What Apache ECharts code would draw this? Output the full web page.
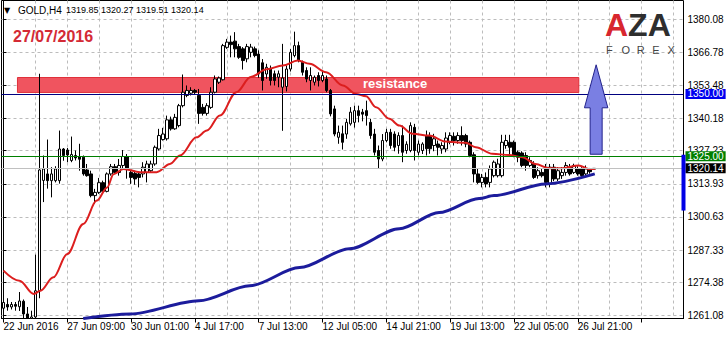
<!DOCTYPE html>
<html><head><meta charset="utf-8">
<script src="https://cdn.jsdelivr.net/npm/echarts@6/dist/echarts.min.js"></script>
<style>html,body{margin:0;padding:0;background:#fff}#c{width:727px;height:339px}</style>
</head><body><div id="c"></div>
<script>
// ---------- data ----------
const tickLabels = ['22 Jun 2016','27 Jun 09:00','30 Jun 01:00','4 Jul 17:00','7 Jul 13:00','12 Jul 05:00','14 Jul 21:00','19 Jul 13:00','22 Jul 05:00','26 Jul 21:00'];
const barsPerLabel = 16;
const barsPerGrid = 8;
const slotCount = 171;
const categories = Array.from({length: slotCount}, (_, i) => i);
const priceTicks = [1261.08,1274.38,1287.33,1300.63,1313.93,1327.23,1340.18,1353.48,1366.78,1380.08];
const priceMin = 1259.876, priceMax = 1387.505;
// [open, close, low, high]
const candles = [
[1264.0,1266.3,1262.8,1269.0],[1265.5,1264.5,1263.0,1268.0],[1264.5,1265.5,1263.5,1266.5],[1265.5,1264.8,1263.0,1266.5],
[1264.6,1266.9,1262.9,1270.5],[1266.8,1261.7,1259.9,1267.5],[1261.7,1259.9,1259.9,1264.5],[1259.9,1260.5,1259.9,1263.0],
[1260.5,1271.0,1259.9,1285.5],[1271.0,1319.5,1268.0,1358.1],[1315.3,1319.9,1306.6,1325.3],[1317.9,1315.2,1312.0,1331.7],
[1315.2,1317.9,1308.5,1320.6],[1315.2,1319.9,1314.5,1321.0],[1315.2,1327.9,1314.0,1335.3],[1327.9,1325.3,1323.2,1328.3],
[1327.5,1325.5,1322.6,1328.3],[1323.3,1325.7,1322.6,1332.9],[1325.3,1324.3,1323.3,1327.3],[1324.8,1323.8,1319.2,1330.0],
[1324.6,1317.9,1317.2,1325.3],[1319.5,1317.2,1316.8,1321.9],[1317.9,1309.2,1308.5,1319.2],[1309.2,1310.5,1305.9,1311.9],
[1310.5,1314.4,1309.9,1316.3],[1314.4,1310.9,1310.5,1315.2],[1310.9,1317.9,1310.5,1318.5],[1317.9,1320.8,1317.2,1321.9],
[1320.8,1318.5,1317.9,1321.9],[1318.5,1321.3,1317.2,1323.9],[1321.3,1324.9,1320.0,1327.5],[1324.9,1320.0,1316.0,1325.9],
[1318.5,1316.5,1313.9,1319.5],[1318.1,1315.9,1313.6,1319.2],[1317.9,1316.5,1312.5,1318.5],[1317.9,1320.6,1316.5,1322.6],
[1318.5,1321.9,1314.5,1323.2],[1319.2,1321.9,1318.5,1323.2],[1321.9,1328.6,1321.2,1329.3],[1327.9,1333.3,1327.3,1336.0],
[1331.7,1333.9,1331.3,1336.4],[1332.0,1339.6,1331.3,1341.3],[1339.6,1336.0,1335.3,1340.9],[1336.0,1340.6,1335.6,1342.0],
[1337.3,1345.3,1336.6,1346.0],[1345.3,1350.7,1344.6,1357.8],[1349.4,1351.4,1348.7,1353.4],[1350.3,1351.4,1349.4,1352.7],
[1351.4,1350.7,1350.0,1352.0],[1349.4,1342.2,1338.0,1352.0],[1344.6,1342.2,1341.3,1346.0],[1342.2,1345.3,1341.3,1346.3],
[1344.6,1350.7,1344.0,1352.7],[1350.7,1356.0,1350.2,1357.4],[1354.7,1356.4,1354.0,1357.0],[1355.7,1369.4,1355.4,1370.1],
[1368.7,1370.8,1368.1,1372.1],[1370.8,1369.8,1364.7,1373.4],[1371.2,1368.1,1364.7,1374.8],[1369.0,1364.7,1364.1,1370.1],
[1368.1,1363.4,1359.8,1368.8],[1364.1,1369.0,1362.7,1370.1],[1366.7,1368.8,1364.7,1370.1],[1368.1,1365.4,1364.7,1369.0],
[1366.0,1358.0,1356.5,1367.5],[1362.5,1355.4,1351.4,1364.0],[1358.0,1360.7,1356.1,1362.1],[1360.1,1355.4,1353.4,1361.4],
[1358.1,1355.4,1353.4,1359.4],[1356.7,1358.1,1352.7,1359.4],[1352.7,1356.4,1335.2,1370.1],[1353.0,1360.0,1351.0,1361.4],
[1360.0,1366.7,1359.0,1368.0],[1365.4,1369.4,1364.7,1375.0],[1369.4,1363.4,1362.7,1371.0],[1362.7,1358.7,1357.4,1363.4],
[1359.4,1356.0,1354.7,1360.7],[1355.4,1357.4,1351.4,1360.7],[1354.7,1356.7,1353.4,1357.4],[1357.4,1355.4,1353.0,1358.7],
[1355.4,1357.4,1354.7,1359.4],[1356.0,1351.4,1350.7,1357.4],[1351.4,1342.0,1341.0,1352.0],[1344.0,1333.9,1333.0,1345.3],
[1332.6,1334.6,1330.0,1337.3],[1334.0,1330.6,1327.7,1337.3],[1333.9,1338.6,1332.0,1340.0],[1338.0,1342.7,1337.3,1344.7],
[1338.6,1343.3,1336.5,1345.3],[1343.3,1341.3,1338.6,1345.3],[1342.7,1341.9,1339.0,1344.0],[1343.3,1341.3,1337.3,1347.3],
[1338.6,1333.3,1332.0,1340.0],[1333.9,1326.6,1325.3,1336.0],[1327.3,1323.9,1319.9,1329.3],[1323.9,1331.3,1323.0,1333.9],
[1331.3,1334.6,1330.6,1336.0],[1334.6,1329.3,1328.0,1336.0],[1333.9,1328.6,1327.0,1335.0],[1329.3,1333.3,1326.0,1334.6],
[1333.3,1326.6,1322.6,1337.3],[1327.3,1329.8,1326.0,1331.0],[1327.3,1337.3,1326.6,1338.6],[1336.6,1327.3,1323.3,1338.0],
[1326.6,1329.9,1325.3,1331.3],[1327.3,1329.9,1325.9,1330.6],[1333.3,1328.0,1325.3,1335.3],[1333.3,1328.0,1326.0,1334.6],
[1329.3,1332.0,1327.0,1334.0],[1329.9,1328.6,1325.3,1331.3],[1327.9,1329.3,1326.0,1330.6],[1327.9,1332.3,1326.6,1334.6],
[1330.6,1333.3,1329.8,1334.6],[1333.0,1331.3,1329.3,1334.6],[1331.3,1333.3,1330.0,1334.6],[1333.3,1331.3,1329.3,1337.0],
[1333.3,1329.9,1328.6,1334.0],[1330.6,1325.3,1324.6,1331.3],[1325.6,1317.9,1314.5,1326.6],[1317.9,1314.5,1313.9,1319.9],
[1314.5,1316.5,1312.5,1317.9],[1316.5,1313.9,1312.5,1318.5],[1314.5,1319.9,1312.5,1321.3],[1317.2,1322.6,1316.5,1323.3],
[1317.2,1321.9,1316.5,1324.0],[1317.2,1330.6,1316.5,1333.6],[1329.3,1331.3,1328.0,1333.6],[1330.6,1328.6,1325.3,1333.6],
[1330.6,1325.3,1324.6,1331.3],[1326.6,1324.6,1322.6,1327.3],[1326.3,1321.3,1320.6,1327.0],[1325.3,1321.3,1319.2,1326.6],
[1321.3,1323.3,1320.6,1324.6],[1321.9,1316.5,1315.9,1323.0],[1317.2,1319.2,1316.0,1320.6],[1318.5,1317.2,1316.5,1320.0],
[1320.6,1314.5,1312.5,1321.9],[1313.9,1320.6,1312.5,1321.9],[1320.6,1315.9,1315.0,1321.9],[1315.9,1319.2,1315.0,1320.6],
[1317.2,1318.5,1315.9,1320.6],[1318.5,1321.3,1317.2,1322.6],[1320.6,1317.9,1317.2,1321.9],[1318.5,1321.3,1317.9,1322.0],
[1319.9,1317.9,1317.2,1321.0],[1319.9,1317.2,1316.5,1320.6],[1317.9,1319.9,1317.2,1321.3],[1319.6,1318.8,1318.0,1320.3],
[1319.85,1320.14,1319.51,1320.27]
];
// moving averages read at [bar index, price]
const redMA = [[0,1279.1],[4,1275.0],[7.6,1269.7],[9.25,1271.0],[12.5,1276.4],[16,1285.8],[20,1297.8],[23.4,1307.2],[26,1312.5],[27.6,1317.8],[30.1,1319.9],[34.25,1318.6],[38.4,1318.6],[41.75,1321.9],[44.25,1325.3],[48.4,1332.6],[51,1335.3],[54.25,1341.3],[58.4,1350.7],[62,1356.8],[66,1359.9],[70,1361.4],[73.8,1363.4],[76.75,1362.1],[80.9,1358.7],[85.1,1353.4],[88.4,1350.0],[90.9,1349.1],[93.4,1344.7],[96.75,1340.0],[99.25,1337.3],[102.6,1334.0],[106.75,1333.3],[110.9,1330.9],[115.9,1330.4],[118.4,1328.6],[122.6,1326.0],[126.75,1325.5],[130.1,1324.6],[133.4,1321.9],[136.75,1320.2],[140.1,1320.2],[144.25,1321.3],[146.75,1319.9],[148.4,1319.9]];
const blueMA = [[20,1259.9],[31.75,1261.7],[49,1267.0],[61.75,1273.0],[74.25,1280.3],[86.75,1287.9],[99.25,1295.9],[109.25,1302.4],[119.25,1308.0],[123,1309.2],[136,1313.9],[148.25,1317.9]];
const levels = [1350.00, 1325.00, 1320.14];
const resistanceBox = [[3.5, 1356.6], [144.25, 1350.6]];
const resistanceLabel = 'resistance';
const arrowUp = [148.6, 1325.8, 1361.7]; // bar index, tail price, tip price
const rangeBar = [1303.2, 1325.6];
const symbolName = 'GOLD,H4';
const lastOHLC = [1319.85, 1320.27, 1319.51, 1320.14];
const dateText = '27/07/2016';
const logoLetters = ['F','O','R','E','X'];

// ---------- chart ----------
const FONT = 'Liberation Sans';
const chart = echarts.init(document.getElementById('c'), null, {renderer: 'svg'});
const gridCols = categories.filter(i => i % barsPerGrid === 0);
const levelLine = ['#000080', '#008000', '#c0c0c0'];
const levelBox = ['#0000f0', '#008000', '#000000'];

const markLines = levels.map((v, k) => ({yAxis: v,
    lineStyle: {color: levelLine[k], width: 1, type: 'solid'},
    label: {show: true, position: 'end', distance: 2, formatter: v.toFixed(2), backgroundColor: levelBox[k], color: '#fff',
      padding: [0, 2, 0, 2], fontSize: 10, fontFamily: FONT, lineHeight: 10, verticalAlign: 'middle'}}));

const option = {
  animation: false,
  backgroundColor: '#fff',
  grid: {left: 1.5, top: 0.5, width: 682, height: 318, show: true, borderColor: '#000', borderWidth: 1},
  xAxis: [{
    type: 'category', data: categories, boundaryGap: true,
    axisLine: {show: true, lineStyle: {color: '#000', width: 1}},
    axisTick: {show: true, alignWithLabel: true, interval: barsPerLabel - 1, length: 4, lineStyle: {color: '#000'}},
    axisLabel: {interval: barsPerLabel - 1, align: 'left', margin: 3, fontSize: 10, fontFamily: FONT, color: '#000',
      formatter: (v, i) => tickLabels[i / barsPerLabel] || ''},
    splitLine: {show: false}
  }, {
    type: 'value', min: -0.5, max: slotCount - 0.5, show: true,
    axisLine: {show: false}, axisLabel: {show: false},
    axisTick: {show: false, customValues: gridCols},
    splitLine: {show: true, lineStyle: {color: '#bcbcbc', width: 1, type: [3, 3]}}
  }],
  yAxis: {
    type: 'value', position: 'right', min: priceMin, max: priceMax,
    axisLine: {show: true, lineStyle: {color: '#000', width: 1}},
    axisTick: {show: true, length: 3, customValues: priceTicks, lineStyle: {color: '#000'}},
    axisLabel: {customValues: priceTicks, margin: 4, fontSize: 10, fontFamily: FONT, color: '#000', formatter: v => v.toFixed(2)},
    splitLine: {show: true, lineStyle: {color: '#bcbcbc', width: 1, type: [3, 3]}}
  },
  graphic: [
    {type: 'text', z: 100, style: {x: 4, y: 10, text: '▼', font: '8px "DejaVu Sans"', fill: '#000', verticalAlign: 'middle'}},
    {type: 'text', z: 100, style: {x: 18, y: 10, text: symbolName, font: '10px ' + FONT, fill: '#000', verticalAlign: 'middle'}},
    {type: 'text', z: 100, style: {x: 66, y: 10, text: lastOHLC.map(v => v.toFixed(2)).join(' '), font: '9px ' + FONT, fill: '#000', verticalAlign: 'middle'}},
    {type: 'text', z: 100, style: {x: 13, y: 36, text: dateText, font: 'bold 16px ' + FONT, fill: '#d42a35', verticalAlign: 'middle'}},
    {type: 'text', z: 100, style: {x: 363, y: 83, text: resistanceLabel, font: 'bold 13px ' + FONT, fill: '#fff', verticalAlign: 'middle'}},
    {type: 'text', z: 100, style: {x: 605, y: 25, text: '{r|A}{d|ZA}', font: 'bold 32px ' + FONT, verticalAlign: 'middle',
      rich: {r: {fill: '#d8262e', font: 'bold 32px ' + FONT}, d: {fill: '#2e2e2e', font: 'bold 32px ' + FONT}}}},
    ...logoLetters.map((ch, k) => ({type: 'text', z: 100, style: {x: 606 + k * 15.4, y: 50, text: ch, font: '11px ' + FONT, fill: '#444', verticalAlign: 'middle'}}))
  ],
  series: [
    { // resistance box + level lines
      type: 'line', xAxisIndex: 1, yAxisIndex: 0, data: [], z: 2, silent: true,
      markArea: {silent: true, animation: false,
        itemStyle: {color: '#f0545f', borderColor: '#e0303a', borderWidth: 1},
        data: [[{coord: resistanceBox[0]}, {coord: resistanceBox[1]}]]},
      markLine: {silent: true, symbol: ['none', 'none'], animation: false, data: markLines}
    },
    {
      type: 'candlestick', xAxisIndex: 0, yAxisIndex: 0, data: candles, barWidth: 3, z: 3, clip: true,
      itemStyle: {color: '#fff', color0: '#000', borderColor: '#000', borderColor0: '#000', borderWidth: 1}
    },
    {
      type: 'line', xAxisIndex: 1, yAxisIndex: 0, data: blueMA, z: 4, smooth: 0.3, smoothMonotone: 'x', showSymbol: false, clip: true,
      lineStyle: {color: '#1c1c9c', width: 3}
    },
    {
      type: 'line', xAxisIndex: 1, yAxisIndex: 0, data: redMA, z: 4, smooth: 0.35, smoothMonotone: 'x', showSymbol: false, clip: true,
      lineStyle: {color: '#dc1e1e', width: 2}
    },
    {
      type: 'custom', xAxisIndex: 1, yAxisIndex: 0, data: [arrowUp], z: 6, clip: false, silent: true,
      encode: {x: 0, y: [1, 2]},
      renderItem: (params, api) => {
        const tip = api.coord([api.value(0), api.value(2)]);
        const tail = api.coord([api.value(0), api.value(1)]);
        const x = tip[0], hb = tip[1] + 43, hh = 11.7, sh = 6;
        return {type: 'polygon', shape: {points: [[x, tip[1]], [x + hh, hb], [x + sh, hb], [x + sh, tail[1]], [x - sh, tail[1]], [x - sh, hb], [x - hh, hb]]},
          style: {fill: '#7a7fe3', stroke: '#23238c', lineWidth: 1}};
      }
    },
    {
      type: 'custom', xAxisIndex: 1, yAxisIndex: 0, data: [[slotCount - 0.5, rangeBar[0], rangeBar[1]]], z: 7, clip: false, silent: true,
      encode: {x: 0, y: [1, 2]},
      renderItem: (params, api) => {
        const a = api.coord([api.value(0), api.value(2)]);
        const b = api.coord([api.value(0), api.value(1)]);
        return {type: 'rect', shape: {x: a[0] - 2, y: a[1], width: 4, height: b[1] - a[1]}, style: {fill: '#0000e6'}};
      }
    }
  ]
};
chart.setOption(option);
</script>
</body></html>
